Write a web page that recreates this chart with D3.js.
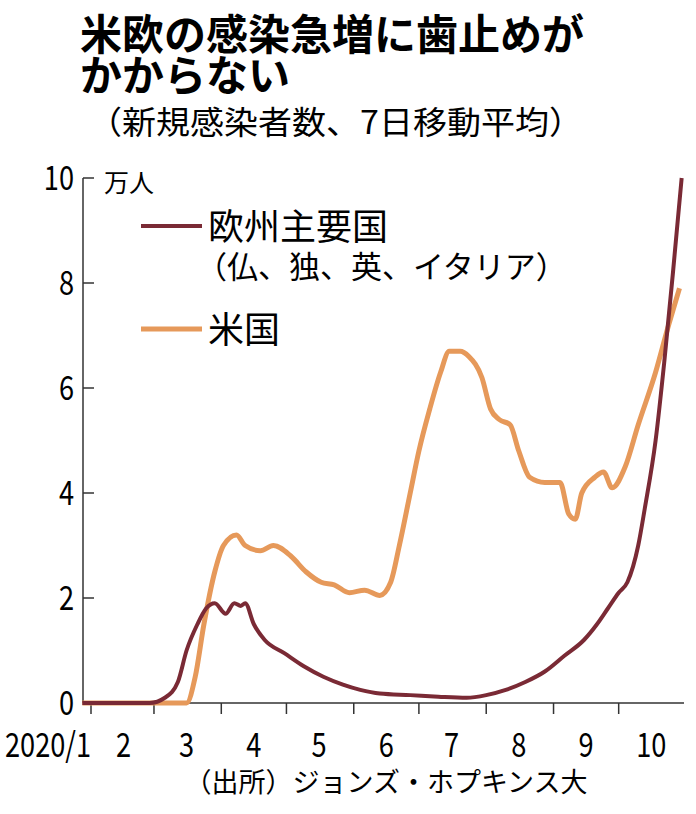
<!DOCTYPE html>
<html><head><meta charset="utf-8">
<script src="https://cdn.jsdelivr.net/npm/d3@7"></script>
<style>body{margin:0;background:#fff}text{font-family:"Noto Sans CJK JP",sans-serif}</style>
</head><body>
<svg id="c" width="696" height="814"></svg>
<script>
// day offsets from 2020-02-01 and values (万人)
var euDays = [-4,27,34,40,44,49,53,57,62,66,69,71,75,80,89,98,107,116,124,133,147,160,173,182,191,200,209,218,227,233,238,243,247,252,255,260,264,268,272];
var euVals = [0,0,0.1,0.4,1.0,1.5,1.8,1.9,1.7,1.9,1.85,1.9,1.5,1.2,0.95,0.7,0.5,0.35,0.25,0.18,0.15,0.12,0.1,0.15,0.25,0.4,0.6,0.9,1.2,1.5,1.8,2.1,2.3,3.0,3.7,5.0,6.5,8.2,10.0];
var usDays = [-4,44,48,52,57,61,67,71,78,84,92,99,106,112,119,126,133,138,142,147,151,156,161,165,170,174,180,184,188,193,197,202,209,216,220,223,226,232,236,240,246,252,260,266,271];
var usVals = [0,0,0.5,1.5,2.5,3.0,3.2,3.0,2.9,3.0,2.8,2.5,2.3,2.25,2.1,2.15,2.05,2.3,3.0,4.0,4.8,5.6,6.3,6.7,6.7,6.6,6.2,5.6,5.4,5.3,4.8,4.3,4.2,4.2,3.6,3.5,4.0,4.3,4.4,4.1,4.5,5.3,6.3,7.2,7.9];
var yTicks = [0,2,4,6,8,10];
var monthLabels = ["2020/1","2","3","4","5","6","7","8","9","10"];

var svg = d3.select("#c");
var t0 = new Date(2020,1,1);
var day = d => d3.timeDay.offset(t0, d);
var x = d3.scaleTime().domain([t0, new Date(2020,10,1)]).range([91, 686]);
var y = d3.scaleLinear().domain([0,10]).range([703,178]);
var narrow = "'Liberation Sans',sans-serif";

svg.append("text").attr("x",80).attr("y",50).attr("font-size",42).attr("font-weight","bold").text("米欧の感染急増に歯止めが");
svg.append("text").attr("x",80).attr("y",91).attr("font-size",42).attr("font-weight","bold").text("かからない");
svg.append("text").attr("x",88).attr("y",134).attr("font-size",32)
  .attr("textLength",495).attr("lengthAdjust","spacingAndGlyphs").text("（新規感染者数、7日移動平均）");

// axes
svg.append("line").attr("x1",83).attr("x2",83).attr("y1",178).attr("y2",703).attr("stroke","#333").attr("stroke-width",1.5);
svg.append("line").attr("x1",83).attr("x2",684).attr("y1",703).attr("y2",703).attr("stroke","#333").attr("stroke-width",1.5);
svg.selectAll(".yt").data(yTicks).enter().append("line")
  .attr("x1",83).attr("x2",94).attr("y1",y).attr("y2",y).attr("stroke","#333").attr("stroke-width",1.5);
svg.selectAll(".yl").data(yTicks).enter().append("text")
  .attr("transform",d => "translate(74," + (y(d)+12) + ") scale(0.8,1)").attr("text-anchor","end")
  .attr("font-family",narrow).attr("font-size",34).text(d => d);
svg.append("text").attr("x",104).attr("y",192).attr("font-size",25).text("万人");

var months = d3.range(1,10).map(m => new Date(2020,m,1));
svg.selectAll(".xt").data(months).enter().append("line")
  .attr("x1",x).attr("x2",x).attr("y1",703).attr("y2",714).attr("stroke","#333").attr("stroke-width",1.5);
svg.selectAll(".xl").data(monthLabels).enter().append("text")
  .attr("transform",(d,i) => "translate(" + (i == 0 ? 48 : x(new Date(2020,i,16))) + ",757) scale(0.8,1)")
  .attr("text-anchor","middle")
  .attr("font-family",narrow).attr("font-size",34).text(d => d);

var line = d3.line().x(d => x(day(d[0]))).y(d => y(d[1])).curve(d3.curveMonotoneX);
svg.append("path").datum(d3.zip(usDays, usVals)).attr("d", line)
  .attr("fill","none").attr("stroke","#e6995a").attr("stroke-width",5);
svg.append("path").datum(d3.zip(euDays, euVals)).attr("d", line)
  .attr("fill","none").attr("stroke","#7a2a35").attr("stroke-width",4);

// legend
svg.append("line").attr("x1",141).attr("x2",202).attr("y1",226).attr("y2",226).attr("stroke","#7a2a35").attr("stroke-width",4);
svg.append("text").attr("x",208).attr("y",240).attr("font-size",36).text("欧州主要国");
svg.append("text").attr("x",196).attr("y",278).attr("font-size",31).text("（仏、独、英、イタリア）");
svg.append("line").attr("x1",141).attr("x2",202).attr("y1",329).attr("y2",329).attr("stroke","#e6995a").attr("stroke-width",5);
svg.append("text").attr("x",208).attr("y",343).attr("font-size",36).text("米国");

svg.append("text").attr("x",386).attr("y",792).attr("text-anchor","middle").attr("font-size",27).text("（出所）ジョンズ・ホプキンス大");
</script>
</body></html>
